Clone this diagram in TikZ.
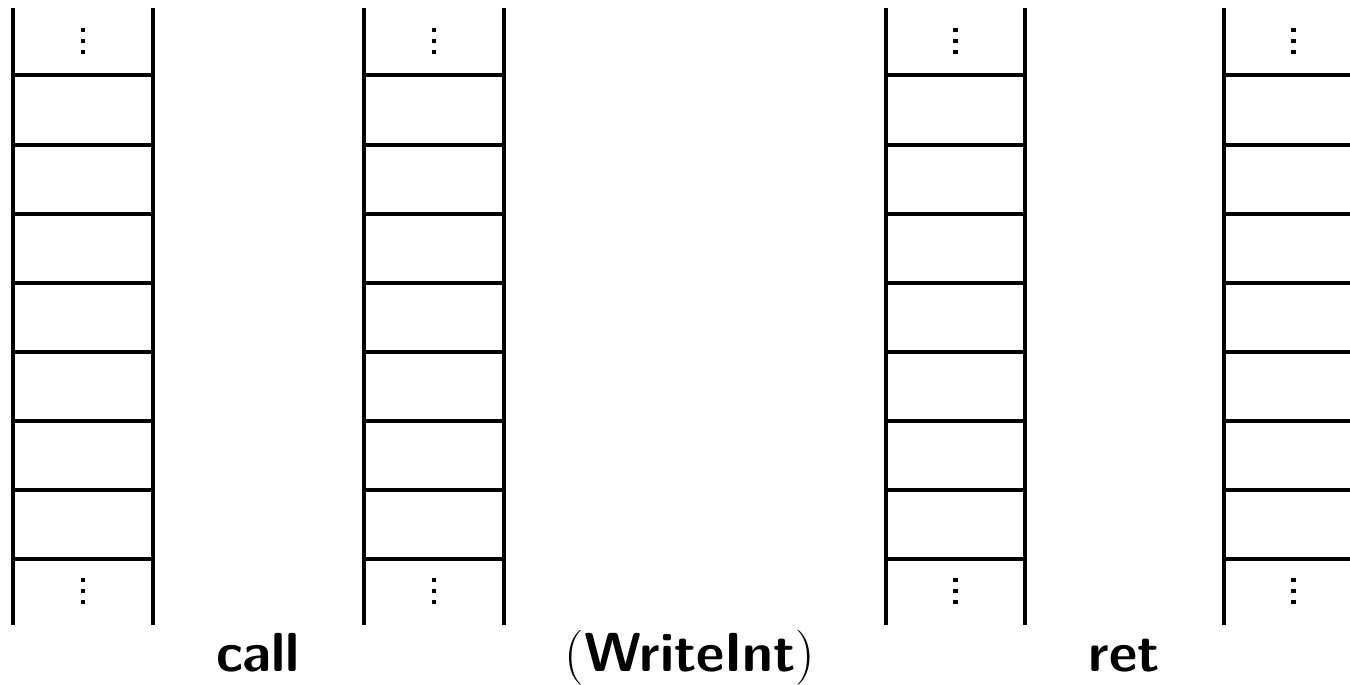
\documentclass[tikz,border=0pt]{standalone}
\usepackage{fontspec}
\newcommand{\lpar}{{\rmfamily\mdseries(}}
\newcommand{\rpar}{{\rmfamily\mdseries)}}
\begin{document}
\begin{tikzpicture}[x=1pt,y=-1pt,line width=4pt,
  lbl/.style={anchor=base,inner sep=0pt,font=\fontsize{55}{60}\selectfont\sffamily\bfseries},
  dotsq/.style={fill=black,draw=none}]
\useasboundingbox (0,0) rectangle (1350,685);
\clip (0,0) rectangle (1350,685);
\foreach \cx in {82.75,434,955.5,1293.5} {
  \draw (\cx-69.75,8) -- (\cx-69.75,625);
  \draw (\cx+69.75,8) -- (\cx+69.75,625);
  \foreach \y in {75.5,144.5,213.5,282.5,351.5,420.5,489.5,558.5}
    \draw (\cx-69.75,\y) -- (\cx+69.75,\y);
  \foreach \y in {30,41,52,580,591,602}
    \fill[dotsq] (\cx-2.2,\y-2.2) rectangle (\cx+2.2,\y+2.2);
}
\node[lbl] (call) at (258,671) {call};
\node[lbl] (wi) at (690,671) {\lpar WriteInt\rpar};
\node[lbl] (ret) at (1124,671) {ret};
\end{tikzpicture}
\end{document}
